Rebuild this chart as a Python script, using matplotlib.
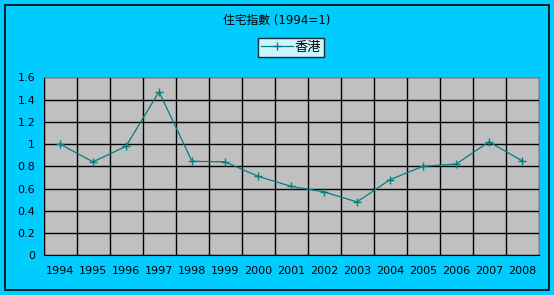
import numpy as np
import matplotlib
matplotlib.use('Agg')
import matplotlib.pyplot as plt
from matplotlib.patches import Rectangle
from matplotlib.ticker import FuncFormatter

plt.rcParams['font.family'] = ['DejaVu Sans', 'Noto Sans CJK TC']

# data
years = ['1994', '1995', '1996', '1997', '1998', '1999', '2000', '2001',
         '2002', '2003', '2004', '2005', '2006', '2007', '2008']
hk_index = [1.00, 0.84, 0.98, 1.47, 0.845, 0.84, 0.71, 0.62,
            0.57, 0.48, 0.68, 0.80, 0.82, 1.02, 0.85]
y_ticks = [0, 0.2, 0.4, 0.6, 0.8, 1.0, 1.2, 1.4, 1.6]

W, H = 554, 295
fig = plt.figure(figsize=(W / 100, H / 100), dpi=100)
fig.patch.set_facecolor('#00CCFF')

# outer chart border
fig.patches.append(Rectangle((5 / W, 5 / H), 544 / W, 285 / H, transform=fig.transFigure,
                             fill=False, edgecolor='black', linewidth=1.2))

ax = fig.add_axes([43.5 / W, 1 - 255.3 / H, 495 / W, 178 / H])
ax.set_facecolor('#C0C0C0')

x = np.arange(len(years))
line, = ax.plot(x, hk_index, color='#008080', linewidth=0.9, marker='+',
                markersize=6, markeredgewidth=1, label='香港', zorder=3)

ax.set_xlim(-0.5, len(years) - 0.5)
ax.set_ylim(0, 1.6)
ax.set_yticks(y_ticks)
ax.yaxis.set_major_formatter(FuncFormatter(lambda v, p: f'{v:g}'))
ax.set_xticks(x)
ax.set_xticklabels(years)
ax.set_xticks(np.arange(len(years) + 1) - 0.5, minor=True)

ax.grid(axis='y', which='major', color='black', linewidth=1)
ax.grid(axis='x', which='minor', color='black', linewidth=1)
ax.grid(axis='x', which='major', visible=False)
ax.set_axisbelow(True)

ax.tick_params(which='both', length=0, labelsize=8, colors='black')
ax.tick_params(axis='x', pad=8)
ax.tick_params(axis='y', pad=6)

for s in ['top', 'right']:
    ax.spines[s].set_color('#808080')
for s in ['left', 'bottom']:
    ax.spines[s].set_color('black')

fig.text(0.5, 1 - 20.5 / H, '住宅指數 (1994=1)', ha='center', va='center', fontsize=8.5)

leg = fig.legend(handles=[line], loc='center', bbox_to_anchor=(291 / W, 1 - 47.5 / H),
                 frameon=True, fancybox=False, fontsize=9.5, handlelength=2.4,
                 handletextpad=0.1, borderpad=0.25, borderaxespad=0, numpoints=1)
leg.get_frame().set_edgecolor('black')
leg.get_frame().set_facecolor('white')
leg.get_frame().set_linewidth(1)

fig.savefig('out.png', dpi=100, facecolor=fig.get_facecolor())
